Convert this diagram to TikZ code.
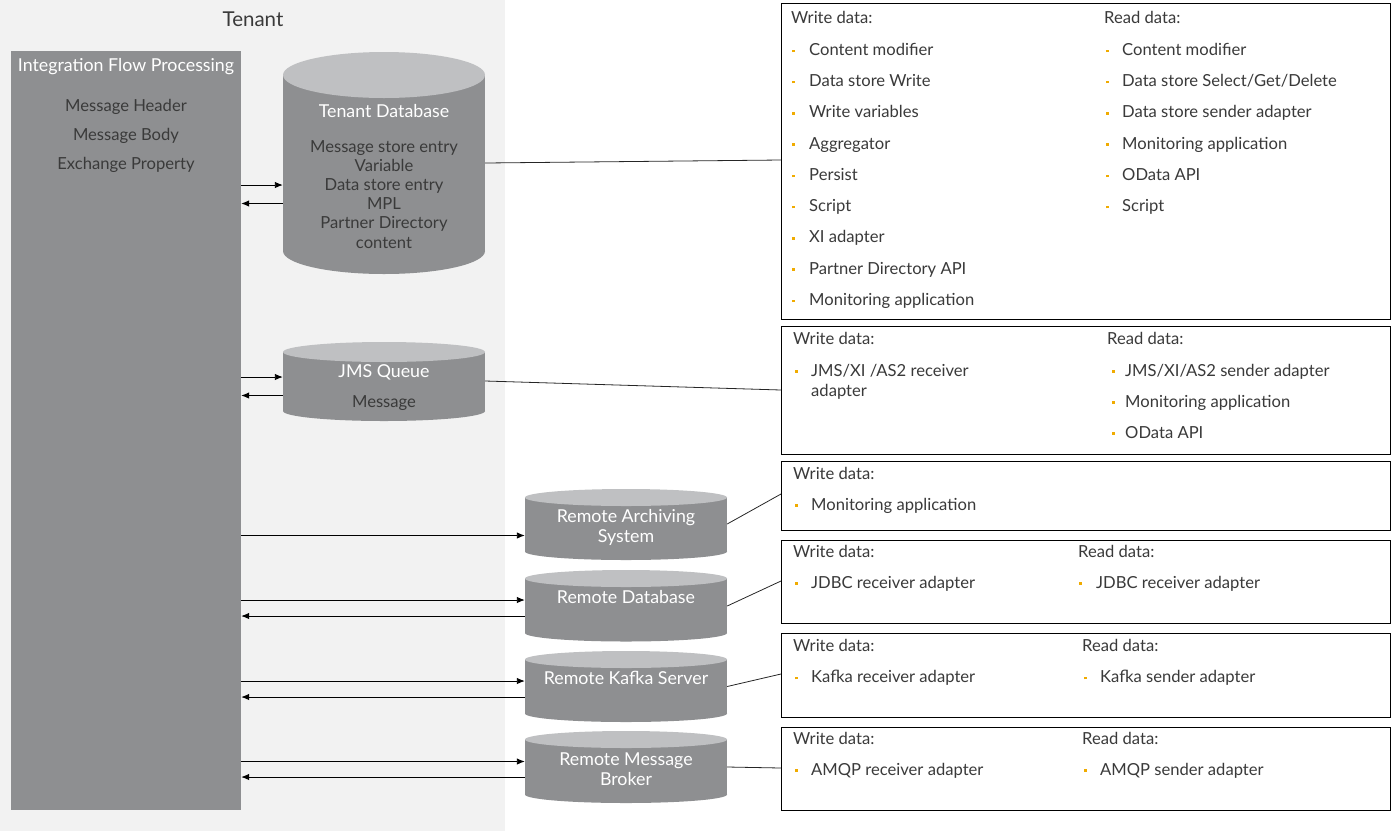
\documentclass[tikz,border=0pt]{standalone}
\usepackage{fontspec}
\setmainfont{Lato}
\usetikzlibrary{arrows.meta}
\definecolor{tenantbg}{HTML}{F2F2F2}
\definecolor{boxgray}{HTML}{8E8F91}
\definecolor{topgray}{HTML}{BFC0C2}
\definecolor{txt}{HTML}{3A3A3A}
\definecolor{bul}{HTML}{F0AB00}
\newcommand{\bul}[1][16pt]{\makebox[#1][l]{\textcolor{bul}{\rule[3.2pt]{2.6pt}{2.6pt}}}}
\tikzset{
  lbl/.style={inner sep=0pt, font=\fontsize{16.6}{20}\selectfont, text=txt, text height=13pt, text depth=1pt},
  item/.style={lbl, anchor=west},
  wlbl/.style={lbl, text=white},
  ttl/.style={wlbl, font=\fontsize{17.8}{21}\selectfont},
  infobox/.style={draw=black, line width=0.9pt, fill=white, inner sep=0pt, anchor=north west},
  arr/.style={-{Latex[length=8pt,width=6.5pt]}, line width=0.9pt},
  link/.style={line width=0.8pt, draw=black!85},
  cylbody/.style={fill=boxgray},
  cyltop/.style={fill=topgray},
}
% name, x1, x2, ytop, ybot, ry
\newcommand{\cyl}[6]{%
  \fill[cylbody] (#2,{#4+#6}) rectangle (#3,{#5-#6});
  \fill[cylbody] ({(#2+#3)/2},{#5-#6}) ellipse [x radius={(#3-#2)/2}, y radius=#6];
  \fill[cyltop] ({(#2+#3)/2},{#4+#6}) ellipse [x radius={(#3-#2)/2}, y radius=#6];
  \pgfmathsetmacro\cylw{#3-#2}\pgfmathsetmacro\cylh{#5-#4}
  \node[inner sep=0pt, minimum width=\cylw pt, minimum height=\cylh pt] (#1) at ({(#2+#3)/2},{(#4+#5)/2}) {};
}
\begin{document}
\begin{tikzpicture}[x=1pt, y=-1pt]
\useasboundingbox (0,0) rectangle (1392,831);
\fill[tenantbg] (0,0) rectangle (505,831);
\node[lbl, font=\fontsize{20.5}{24}\selectfont, text height=15pt] (tenant) at (253,19) {Tenant};

% Integration flow processing
\node[fill=boxgray, inner sep=0pt, minimum width=230pt, minimum height=759pt] (ifp) at (126,430.5) {};
\node[ttl] (ifpt) at (126,65) {Integration Flow Processing};
\node[lbl] (ifp1) at (126,105) {Message Header};
\node[lbl] (ifp2) at (126,134) {Message Body};
\node[lbl] (ifp3) at (126,163) {Exchange Property};

% cylinders
\cyl{tdb}{283}{485}{52}{274}{23}
\node[ttl] (tdbt) at (384,111) {Tenant Database};
\foreach \t [count=\i] in {Message store entry,Variable,Data store entry,MPL,Partner Directory,content}
  \node[lbl] (tdb\i) at (384,{146+(\i-1)*19.2}) {\t};

\cyl{jms}{283}{485}{342}{421}{10}
\node[ttl] (jmst) at (384,371.5) {JMS Queue};
\node[lbl] (jms1) at (384,401.5) {Message};

\cyl{ras}{525}{727}{489}{560}{8.5}
\node[ttl] (ras1) at (626,516) {Remote Archiving};
\node[ttl] (ras2) at (626,536) {System};

\cyl{rdb}{525}{727}{570}{641.5}{8.5}
\node[ttl] (rdbt) at (626,597) {Remote Database};

\cyl{rks}{525}{727}{651}{722}{8.5}
\node[ttl] (rkst) at (626,678) {Remote Kafka Server};

\cyl{rmb}{525}{727}{731}{803}{8.5}
\node[ttl] (rmb1) at (626,759) {Remote Message};
\node[ttl] (rmb2) at (626,779) {Broker};

% arrows
\draw[arr] (ifp.east |- 0,185) -- (tdb.west |- 0,185);
\draw[arr] (tdb.west |- 0,203.5) -- (ifp.east |- 0,203.5);
\draw[arr] (ifp.east |- 0,377) -- (jms.west |- 0,377);
\draw[arr] (jms.west |- 0,395.5) -- (ifp.east |- 0,395.5);
\draw[arr] (ifp.east |- 0,535.5) -- (ras.west |- 0,535.5);
\draw[arr] (ifp.east |- 0,600) -- (rdb.west |- 0,600);
\draw[arr] (rdb.west |- 0,616) -- (ifp.east |- 0,616);
\draw[arr] (ifp.east |- 0,681) -- (rks.west |- 0,681);
\draw[arr] (rks.west |- 0,697) -- (ifp.east |- 0,697);
\draw[arr] (ifp.east |- 0,761.5) -- (rmb.west |- 0,761.5);
\draw[arr] (rmb.west |- 0,777) -- (ifp.east |- 0,777);

% info boxes
\node[infobox, minimum width=609pt, minimum height=316pt] (b1) at (781,2.5) {};
\node[infobox, minimum width=609pt, minimum height=128pt] (b2) at (781,325.5) {};
\node[infobox, minimum width=609pt, minimum height=69pt] (b3) at (781,460.5) {};
\node[infobox, minimum width=609pt, minimum height=83.5pt] (b4) at (781,539.5) {};
\node[infobox, minimum width=609pt, minimum height=84pt] (b5) at (781,632.5) {};
\node[infobox, minimum width=609pt, minimum height=83.5pt] (b6) at (781,726.5) {};

% connectors
\draw[link] (tdb.east |- 0,163) -- (b1.west |- 0,160);
\draw[link] (jms.east |- 0,381) -- (b2.west |- 0,390);
\draw[link] (ras.east |- 0,524) -- (b3.west |- 0,494);
\draw[link] (rdb.east |- 0,606) -- (b4.west |- 0,581);
\draw[link] (rks.east |- 0,686.5) -- (b5.west |- 0,674);
\draw[link] (rmb.east |- 0,767) -- (b6.west |- 0,768);

% box 1
\node[item] (b1w) at (791,17.5) {Write data:};
\foreach \t [count=\i] in {Content modifier,Data store Write,Write variables,Aggregator,Persist,Script,XI adapter,Partner Directory API,Monitoring application}
  \node[item] (b1w\i) at (792,{49.3+(\i-1)*31.25}) {\bul[17pt]\t};
\node[item] (b1r) at (1104,17.5) {Read data:};
\foreach \t [count=\i] in {Content modifier,Data store Select/Get/Delete,Data store sender adapter,Monitoring application,OData API,Script}
  \node[item] (b1r\i) at (1106,{49.3+(\i-1)*31.25}) {\bul\t};

% box 2
\node[item] (b2w) at (793,338) {Write data:};
\node[item] (b2w1) at (795,370) {\bul JMS/XI /AS2 receiver};
\node[item] (b2w1b) at (811,390) {adapter};
\node[item] (b2r) at (1107,338) {Read data:};
\foreach \t [count=\i] in {JMS/XI/AS2 sender adapter,Monitoring application,OData API}
  \node[item] (b2r\i) at (1112,{370+(\i-1)*31}) {\bul[13pt]\t};

% box 3
\node[item] (b3w) at (793,473) {Write data:};
\node[item] (b3w1) at (795,504) {\bul Monitoring application};

% box 4
\node[item] (b4w) at (793,551.5) {Write data:};
\node[item] (b4w1) at (795,582) {\bul JDBC receiver adapter};
\node[item] (b4r) at (1078,551.5) {Read data:};
\node[item] (b4r1) at (1079,582) {\bul[17pt]JDBC receiver adapter};

% box 5
\node[item] (b5w) at (793,645) {Write data:};
\node[item] (b5w1) at (795,676.5) {\bul Kafka receiver adapter};
\node[item] (b5r) at (1082,645) {Read data:};
\node[item] (b5r1) at (1084,676.5) {\bul Kafka sender adapter};

% box 6
\node[item] (b6w) at (793,738) {Write data:};
\node[item] (b6w1) at (795,769) {\bul AMQP receiver adapter};
\node[item] (b6r) at (1082,738) {Read data:};
\node[item] (b6r1) at (1084,769) {\bul AMQP sender adapter};
\end{tikzpicture}
\end{document}
